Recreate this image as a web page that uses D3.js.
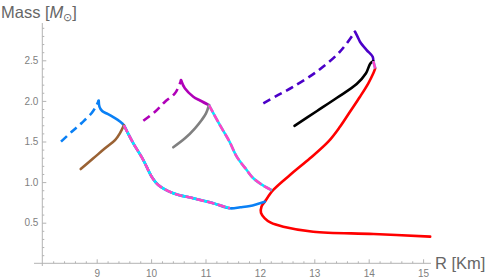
<!DOCTYPE html>
<html><head><meta charset="utf-8">
<script src="https://cdn.jsdelivr.net/npm/d3@7"></script>
<style>body{margin:0;background:#fff}svg{display:block}text{font-family:"Liberation Sans",Arial,sans-serif}</style>
</head><body>
<script>
// ---- data (R [km], M [Msun]) ----
const xTicks = [9,10,11,12,13,14,15];
const yTicks = [0.5,1.0,1.5,2.0,2.5];

const redCurve = [[15.13,0.328],[14.09,0.361],[12.98,0.389],[12.43,0.451],[12.2,0.50],[12.09,0.554],[12.02,0.62],[12.03,0.70],[12.09,0.759],[12.246,0.903],[12.553,1.087],[12.921,1.293],[13.257,1.498],[13.472,1.682],[13.656,1.867],[13.84,2.052],[13.993,2.217],[14.085,2.34],[14.12,2.40]];

const blueDashed = [[8.344,1.498],[8.54,1.62],[8.724,1.728],[8.908,1.851],[9.0,1.95],[9.037,2.005]];
const blueUpper = [[9.037,2.005],[9.05,1.93],[9.1,1.875],[9.2,1.84],[9.305,1.8],[9.42,1.75],[9.50,1.70]];
const blueLower = [[11.45,0.677],[11.64,0.69],[11.818,0.706],[12.09,0.759]];

const pinkA = [[9.50,1.70],[9.56,1.62],[9.673,1.478],[9.857,1.272],[10.011,1.066],[10.132,0.964],[10.408,0.862],[10.776,0.80],[11.143,0.739],[11.45,0.677]];
const pinkB = [[11.064,1.949],[11.25,1.72],[11.44,1.50],[11.574,1.313],[11.757,1.149],[11.879,1.047],[12.094,0.943],[12.22,0.90]];
const pinkC = [[14.085,2.49],[14.12,2.40]];

const magentaDashed = [[9.857,1.756],[10.072,1.867],[10.256,1.99],[10.439,2.094],[10.531,2.217],[10.55,2.257]];
const magentaSolid = [[10.55,2.257],[10.62,2.155],[10.776,2.052],[10.9,2.005],[11.064,1.949]];

const indigoDashed = [[12.063,1.97],[12.338,2.073],[12.614,2.175],[13.044,2.36],[13.472,2.606],[13.748,2.852]];
const indigoSolid = [[13.748,2.852],[13.803,2.78],[13.84,2.729],[13.963,2.626],[14.073,2.544],[14.085,2.49]];

const brownCurve = [[8.706,1.161],[8.938,1.293],[9.153,1.416],[9.337,1.518],[9.426,1.601],[9.50,1.70]];
const grayCurve = [[10.408,1.429],[10.623,1.539],[10.807,1.663],[10.93,1.765],[11.009,1.847],[11.064,1.949]];
const blackCurve = [[12.636,1.693],[13.05,1.876],[13.417,2.039],[13.779,2.208],[13.95,2.34],[14.03,2.46],[14.085,2.49]];

// ---- drawing ----
const W = 491, H = 278;
const svg = d3.select("body").append("svg").attr("width",W).attr("height",H);
const x = d3.scaleLinear().domain([8,15]).range([42.3,423.1]);
const y = d3.scaleLinear().domain([0,2.5]).range([263.3,60.3]);

const axisCol = "#b3b3b3", labCol = "#808080";
// axis lines
svg.append("line").attr("x1",34).attr("x2",431).attr("y1",y(0)).attr("y2",y(0)).attr("stroke",axisCol).attr("stroke-width",1);
svg.append("line").attr("x1",x(8)).attr("x2",x(8)).attr("y1",23).attr("y2",266).attr("stroke",axisCol).attr("stroke-width",1);

// major/minor ticks
const xMinor = d3.range(8,15.01,0.2).filter(v=>Math.abs(v-Math.round(v))>1e-6);
const yMinor = d3.range(0.1,2.91,0.1).filter(v=>Math.abs(v*2-Math.round(v*2))>1e-6);
const gx = svg.append("g").attr("transform",`translate(0,${y(0)})`);
gx.call(d3.axisBottom(x).tickValues(xTicks).tickSize(-4).tickPadding(5).tickFormat(d3.format("d")));
const gxm = svg.append("g").attr("transform",`translate(0,${y(0)})`);
gxm.call(d3.axisBottom(x).tickValues(xMinor).tickSize(-2).tickFormat(""));
const gy = svg.append("g").attr("transform",`translate(${x(8)},0)`);
gy.call(d3.axisLeft(y).tickValues(yTicks).tickSize(-4).tickPadding(4).tickFormat(d3.format(".1f")));
const gym = svg.append("g").attr("transform",`translate(${x(8)},0)`);
gym.call(d3.axisLeft(y).tickValues(yMinor).tickSize(-2).tickFormat(""));
[gx,gxm,gy,gym].forEach(g=>{
  g.select(".domain").remove();
  g.selectAll(".tick line").attr("stroke",axisCol);
  g.selectAll(".tick text").attr("fill",labCol).style("font-size","10px").style("font-family","'Liberation Sans',Arial,sans-serif");
});
gx.selectAll(".tick text").attr("dy","0.9em");

// axis titles
svg.append("text").attr("x",435).attr("y",268.5).attr("fill","#666").style("font-size","16.5px").text("R [Km]");
const yt = svg.append("text").attr("x",1).attr("y",18).attr("fill","#666").style("font-size","16.5px");
yt.append("tspan").text("Mass [");
yt.append("tspan").style("font-style","italic").text("M");
yt.append("tspan").attr("dy",3).style("font-size","11px").text("⊙");
yt.append("tspan").attr("dy",-3).text("]");

const line = d3.line().x(d=>x(d[0])).y(d=>y(d[1])).curve(d3.curveCatmullRom.alpha(0.5));
function draw(data,color,opts={}){
  return svg.append("path").attr("d",line(data)).attr("fill","none").attr("stroke",color)
    .attr("stroke-width",opts.w||2.6).attr("stroke-linejoin","round").attr("stroke-linecap",opts.cap||"round")
    .attr("stroke-dasharray",opts.dash||null);
}

const blue = "#0a80f5", magenta = "#b000b8", indigo = "#4b00c8", brown = "#9a6234", gray = "#808080", pink = "#ff44c4", cyan = "#00e8ff";

draw(redCurve,"#ff0000");
draw(blueDashed,blue,{dash:"8,5",cap:"butt"});
draw(blueUpper.concat(pinkA.slice(1)).concat(blueLower.slice(1)),blue);
draw(magentaDashed,magenta,{dash:"8,5",cap:"butt"});
draw(magentaSolid,magenta);
draw(indigoDashed,indigo,{dash:"8,5",cap:"butt"});
draw(indigoSolid,indigo);
draw(brownCurve,brown);
draw(grayCurve,gray);
draw(blackCurve,"#000");
[pinkA,pinkB,pinkC].forEach(p=>{
  draw(p,cyan,{cap:"butt"});
  draw(p,pink,{dash:"8,3",cap:"butt"});
});
</script>
</body></html>
